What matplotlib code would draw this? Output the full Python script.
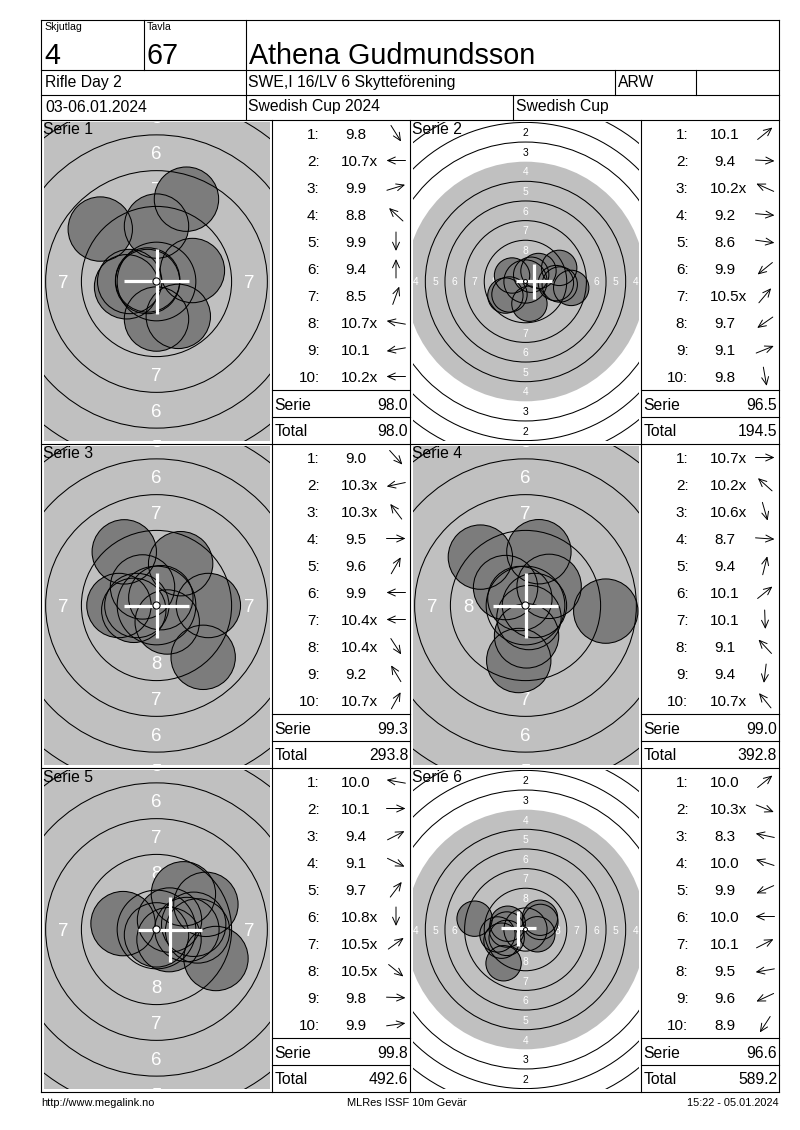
import matplotlib
matplotlib.use("Agg")
import matplotlib.pyplot as plt
from matplotlib.patches import Circle, FancyArrowPatch
import numpy as np

plt.rcParams['font.family'] = ['Liberation Sans', 'DejaVu Sans']

# ---------------- data ----------------
relay_label = "Skjutlag"
relay = "4"
target_label = "Tavla"
target_no = "67"
shooter = "Athena Gudmundsson"
event = "Rifle Day 2"
club = "SWE,I 16/LV 6 Skytteförening"
nation = "ARW"
dates = "03-06.01.2024"
competition = "Swedish Cup 2024"
cup = "Swedish Cup"
footer_left = "http://www.megalink.no"
footer_mid = "MLRes ISSF 10m Gevär"
footer_right = "15:22 - 05.01.2024"

series_names = ["Serie 1", "Serie 2", "Serie 3", "Serie 4", "Serie 5", "Serie 6"]

s1_scores = ["9.8", "10.7x", "9.9", "8.8", "9.9", "9.4", "8.5", "10.7x", "10.1", "10.2x"]
s2_scores = ["10.1", "9.4", "10.2x", "9.2", "8.6", "9.9", "10.5x", "9.7", "9.1", "9.8"]
s3_scores = ["9.0", "10.3x", "10.3x", "9.5", "9.6", "9.9", "10.4x", "10.4x", "9.2", "10.7x"]
s4_scores = ["10.7x", "10.2x", "10.6x", "8.7", "9.4", "10.1", "10.1", "9.1", "9.4", "10.7x"]
s5_scores = ["10.0", "10.1", "9.4", "9.1", "9.7", "10.8x", "10.5x", "10.5x", "9.8", "9.9"]
s6_scores = ["10.0", "10.3x", "8.3", "10.0", "9.9", "10.0", "10.1", "9.5", "9.6", "8.9"]

# shot direction from centre, degrees (0 = right, 90 = up)
s1_dirs = [-58, 180, 17, 137, -90, 90, 70, 170, 190, 180]
s2_dirs = [39, -3, 156, -5, -8, 219, 50, 215, 22, -80]
s3_dirs = [-48, 192, 127, 0, 60, 180, 180, -57, 121, 61]
s4_dirs = [0, 138, -74, -4, 76, 39, -88, 133, -97, 129]
s5_dirs = [170, 0, 27, -26, 53, -90, 36, -39, -2, 8]
s6_dirs = [39, -22, 168, 162, 204, 180, 27, 190, 205, 237]

# visible half-height of each target view (mm)
view_half_mm = [11.15, 20.3, 11.15, 11.15, 11.15, 20.3]
# group centre cross as shown (mm)
cross_x = [0.0, 1.1, 0.0, 0.0, 0.95, -0.93]
cross_y = [0.0, 0.0, 0.0, 0.0, 0.0, 0.13]

all_scores = [s1_scores, s2_scores, s3_scores, s4_scores, s5_scores, s6_scores]
all_dirs = [s1_dirs, s2_dirs, s3_dirs, s4_dirs, s5_dirs, s6_dirs]

# ---------------- layout ----------------
W, H = 800, 1130
DPI = 100
PX2PT = 72.0 / DPI

fig = plt.figure(figsize=(W / DPI, H / DPI), dpi=DPI)
fig.patch.set_facecolor("white")

X_L, X_R = 41, 779
Y_TOP, Y_BOT = 20, 1092
ROW_TOPS = [120, 444, 768]
TGT_COLS = [41, 410]
TAB_COLS = [272, 641]
TAB_W = 138
IMG_W, IMG_H = 226.0, 319.0

GREY = "#c0c0c0"
PELLET = "#7c7c7c"
PELLET_R = 2.25


def px_rect(x, y, w, h):
    return [x / W, 1 - (y + h) / H, w / W, h / H]


def draw_target(ax, scores, dirs, view, cx, cy):
    half_h = view
    half_w = view * IMG_W / IMG_H
    ax.set_xlim(-half_w, half_w)
    ax.set_ylim(-half_h, half_h)
    ax.axis("off")
    scale = IMG_H / (2 * view)  # px per mm
    ax.add_patch(Circle((0, 0), 15.25, fc=GREY, ec="none", zorder=1))
    fs = 1.3 * scale * PX2PT
    margin = 0.6
    for n in range(1, 9):
        rl = 21.5 - 2.5 * (n - 1)
        col = "white" if n >= 4 else "black"
        for (dx, dy) in [(0, 1), (0, -1), (-1, 0), (1, 0)]:
            lim = half_w if dx != 0 else half_h
            if rl > lim + margin:
                continue
            ax.text(dx * rl, dy * rl, str(n), color=col, fontsize=fs,
                    ha="center", va="center_baseline", zorder=2, clip_on=True)
    vals = np.array([float(s.rstrip("x")) for s in scores])
    r = (10.95 - vals) * 2.5
    a = np.radians(dirs)
    xs, ys = r * np.cos(a), r * np.sin(a)
    for x, y in zip(xs, ys):
        ax.add_patch(Circle((x, y), PELLET_R, fc=PELLET, ec="none", zorder=3))
    for n in [1, 2, 3, 5, 6, 7, 8, 9]:
        rr = 22.75 - 2.5 * (n - 1)
        ax.add_patch(Circle((0, 0), rr, fc="none", ec="black", lw=0.75, zorder=4))
    for x, y in zip(xs, ys):
        ax.add_patch(Circle((x, y), PELLET_R, fc="none", ec="black", lw=0.75, zorder=4))
    ax.plot([cx - PELLET_R, cx + PELLET_R], [cy, cy], color="white", lw=2.3,
            solid_capstyle="butt", zorder=5)
    ax.plot([cx, cx], [cy - PELLET_R, cy + PELLET_R], color="white", lw=2.3,
            solid_capstyle="butt", zorder=5)
    ax.add_patch(Circle((0, 0), 0.25, fc="white", ec="black", lw=0.75, zorder=6))


# target axes
for k in range(6):
    row, col = divmod(k, 2)
    T = ROW_TOPS[row]
    CL = TGT_COLS[col]
    ax = fig.add_axes(px_rect(CL + 2.5, T + 2, IMG_W, IMG_H))
    draw_target(ax, all_scores[k], all_dirs[k], view_half_mm[k], cross_x[k], cross_y[k])

# overlay axes in pixel coordinates
ov = fig.add_axes([0, 0, 1, 1])
ov.set_xlim(0, W)
ov.set_ylim(H, 0)
ov.axis("off")
ov.patch.set_alpha(0)


def hline(y, x0, x1):
    ov.plot([x0, x1], [y, y], color="black", lw=0.8, solid_capstyle="projecting")


def vline(x, y0, y1):
    ov.plot([x, x], [y0, y1], color="black", lw=0.8, solid_capstyle="projecting")


def txt(x, y, s, size, ha="left", color="black"):
    ov.text(x, y, s, fontsize=size, ha=ha, va="center_baseline", color=color)


# frame
hline(Y_TOP, X_L, X_R)
hline(Y_BOT, X_L, X_R)
vline(X_L, Y_TOP, Y_BOT)
vline(X_R, Y_TOP, Y_BOT)
for y in [70, 95, 120, 444, 768]:
    hline(y, X_L, X_R)
vline(144, 20, 70)
vline(246, 20, 120)
vline(615, 70, 95)
vline(696, 70, 95)
vline(513, 95, 120)
for x in [272, 410, 641]:
    vline(x, 120, Y_BOT)

# header text
txt(44.5, 26.5, relay_label, 7.6)
txt(147, 26.5, target_label, 7.6)
txt(44, 53.5, relay, 20.7)
txt(146, 53.5, target_no, 20.7)
txt(249, 53.5, shooter, 20.7)
txt(45, 81, event, 11.3)
txt(248, 81, club, 11.3)
txt(618, 81, nation, 11.3)
txt(45, 105.5, dates, 11.3)
txt(248, 105.5, competition, 11.3)
txt(516, 105.5, cup, 11.3)

# footer
txt(41, 1102.5, footer_left, 7.9)
txt(407, 1102.5, footer_mid, 7.9, ha="center")
txt(779, 1102.5, footer_right, 7.9, ha="right")

# tables
ROW_FS = 11
EM = ROW_FS / PX2PT
total = 0.0
for k in range(6):
    row, col = divmod(k, 2)
    T = ROW_TOPS[row]
    L = TAB_COLS[col]
    CL = TGT_COLS[col]
    ov.text(CL + 2, T + 8.5, series_names[k], fontsize=11.3, ha="left",
            va="center_baseline", color="black", zorder=10)
    serie_sum = 0.0
    for i, (s, d) in enumerate(zip(all_scores[k], all_dirs[k])):
        yc = T + 13.5 + 27 * i
        num = s.rstrip("x")
        serie_sum += float(num)
        txt(L + 47.5, yc, f"{i + 1}:", ROW_FS, ha="right")
        ndig = sum(c.isdigit() for c in num)
        w_num = (0.556 * ndig + 0.278) * EM
        txt(L + 84 - w_num / 2, yc, s, ROW_FS, ha="left")
        a = np.radians(d)
        ux, uy = np.cos(a), -np.sin(a)
        xc = L + 124
        half = 9.5
        arr = FancyArrowPatch((xc - half * ux, yc - half * uy), (xc + half * ux, yc + half * uy),
                              arrowstyle="->,head_length=0.55,head_width=0.25",
                              mutation_scale=10, lw=0.7, color="black",
                              shrinkA=0, shrinkB=0)
        ov.add_patch(arr)
    total += serie_sum
    hline(T + 270, L, L + TAB_W)
    hline(T + 296.5, L, L + TAB_W)
    txt(L + 2.5, T + 283.5, "Serie", 11.3)
    txt(L + 136, T + 283.5, f"{serie_sum:.1f}", 11.3, ha="right")
    txt(L + 2.5, T + 310, "Total", 11.3)
    txt(L + 136, T + 310, f"{total:.1f}", 11.3, ha="right")

fig.savefig("out.png", dpi=DPI, facecolor="white")
